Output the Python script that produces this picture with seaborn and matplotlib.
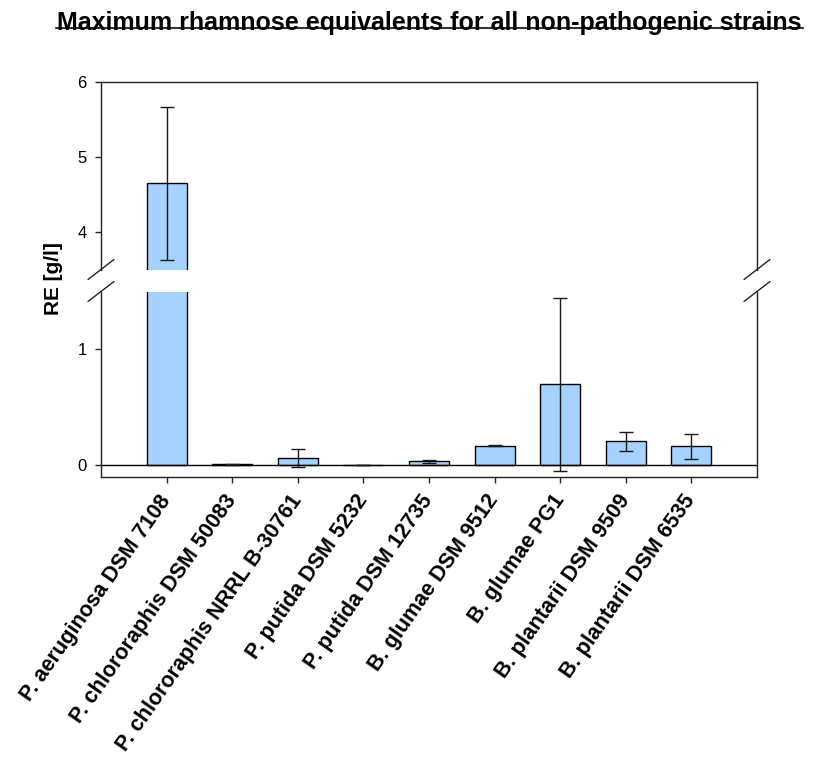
import matplotlib
matplotlib.use("Agg")
import matplotlib.pyplot as plt
from matplotlib.lines import Line2D
import pandas as pd
import seaborn as sns

# Data: maximum rhamnose equivalents (g/l) with standard deviations
strains = [
    "P. aeruginosa DSM 7108",
    "P. chlororaphis DSM 50083",
    "P. chlororaphis NRRL B-30761",
    "P. putida DSM 5232",
    "P. putida DSM 12735",
    "B. glumae DSM 9512",
    "B. glumae PG1",
    "B. plantarii DSM 9509",
    "B. plantarii DSM 6535",
]
re_mean = [4.65, 0.01, 0.067, 0.0, 0.037, 0.17, 0.70, 0.207, 0.164]
re_err = [1.02, 0.003, 0.077, 0.0, 0.013, 0.004, 0.745, 0.085, 0.108]
upper_ticks = [4, 5, 6]
lower_ticks = [0, 1]
upper_range = (3.5, 6.0)
lower_range = (-0.1, 1.5)

title = "Maximum rhamnose equivalents for all non-pathogenic strains"
ylabel = "RE [g/l]"

BAR_COLOR = "#A6D2FF"

sns.set_theme(style="white")
plt.rcParams["font.family"] = ["Liberation Sans", "DejaVu Sans"]
plt.rcParams["text.color"] = "black"

W, H = 813, 765
fig = plt.figure(figsize=(W / 100, H / 100), dpi=100)

left_px, right_px = 101, 757
top_upper, bot_upper = 82, 269.5
top_lower, bot_lower = 291.5, 477


def frac_rect(top, bottom):
    return [left_px / W, 1 - bottom / H, (right_px - left_px) / W, (bottom - top) / H]


ax_top = fig.add_axes(frac_rect(top_upper, bot_upper))
ax_bot = fig.add_axes(frac_rect(top_lower, bot_lower))

df = pd.DataFrame({"strain": strains, "re": re_mean})
positions = list(range(len(strains)))

for ax in (ax_top, ax_bot):
    sns.barplot(data=df, x="strain", y="re", ax=ax, color=BAR_COLOR,
                saturation=1, width=0.61, edgecolor="black", linewidth=1,
                errorbar=None)
    ax.errorbar(positions, re_mean, yerr=re_err, fmt="none",
                ecolor="#1a1a1a", elinewidth=1, capsize=4.7, capthick=1)
    ax.set_xlim(-1, len(strains))
    ax.set_xlabel("")
    ax.set_ylabel("")
    for s in ax.spines.values():
        s.set_color("#222222")
        s.set_linewidth(1)
    ax.tick_params(axis="y", left=True, length=4.3, width=1, direction="out",
                   pad=6, labelsize=12, colors="#222222", labelcolor="black")

# upper segment
ax_top.set_ylim(*upper_range)
ax_top.set_yticks(upper_ticks)
ax_top.spines["bottom"].set_visible(False)
ax_top.tick_params(axis="x", bottom=False, labelbottom=False)

# lower segment
ax_bot.set_ylim(*lower_range)
ax_bot.set_yticks(lower_ticks)
ax_bot.spines["top"].set_visible(False)
ax_bot.axhline(0, color="black", linewidth=1, zorder=1.5)
ax_bot.set_xticks(positions)
ax_bot.set_xticklabels(strains, rotation=55, ha="right", va="center",
                       rotation_mode="anchor", fontweight="bold", fontsize=15.5)
ax_bot.tick_params(axis="x", bottom=True, length=4.3, width=1, direction="out",
                   pad=10, colors="#222222", labelcolor="black")

# axis-break marks on both spines
dx, dy = 13 / W, 10 / H
for xp in (left_px, right_px):
    for yp in (bot_upper, top_lower):
        xf, yf = xp / W, 1 - yp / H
        fig.add_artist(Line2D([xf - dx, xf + dx], [yf - dy, yf + dy],
                              transform=fig.transFigure, color="#222222",
                              linewidth=1))

fig.text(53 / W, 1 - 279 / H, ylabel, rotation=90, ha="center", va="center",
         fontweight="bold", fontsize=15, color="black")

t = fig.text(429 / W, 1 - 30 / H, title, ha="center", va="baseline",
             fontweight="bold", fontsize=18, color="black")
fig.canvas.draw()
bb = t.get_window_extent()
ly = 1 - 27.7 / H
fig.add_artist(Line2D([(bb.x0 - 1) / W, (bb.x1 + 2) / W], [ly, ly],
                      transform=fig.transFigure, color="#333333", linewidth=1.5))

fig.savefig("out.png", dpi=100)
